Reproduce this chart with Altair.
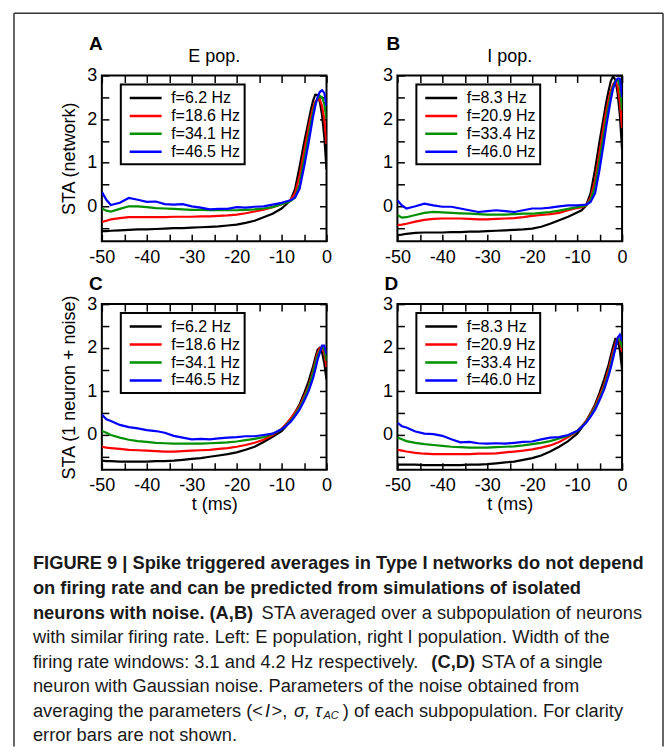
import altair as alt
import pandas as pd

# ---------------- data ----------------
T = [-50, -49, -48, -46, -44, -42, -40, -38, -36, -34, -32, -30, -28, -26, -24, -22, -20,
     -18, -16, -14, -12, -10, -9, -8, -7, -6, -5, -4, -3.5, -3, -2.5, -2, -1.5, -1, -0.5, 0]

E_LABELS = ["f=6.2 Hz", "f=18.6 Hz", "f=34.1 Hz", "f=46.5 Hz"]
I_LABELS = ["f=8.3 Hz", "f=20.9 Hz", "f=33.4 Hz", "f=46.0 Hz"]
COLORS = ["#000000", "#ff0000", "#009000", "#0000ff"]

# Panel A: E pop., network
A_BLACK = [-0.57, -0.57, -0.56, -0.55, -0.54, -0.53, -0.53, -0.52, -0.51, -0.50, -0.50, -0.49, -0.48, -0.47, -0.46, -0.44, -0.42,
           -0.38, -0.33, -0.25, -0.17, -0.05, 0.04, 0.14, 0.40, 0.90, 1.45, 1.95, 2.20, 2.42, 2.56, 2.55, 2.40, 2.10, 1.60, 0.85]
A_RED = [-0.36, -0.33, -0.30, -0.27, -0.25, -0.25, -0.25, -0.25, -0.25, -0.24, -0.24, -0.24, -0.23, -0.23, -0.22, -0.21, -0.19,
         -0.16, -0.12, -0.08, -0.02, 0.05, 0.09, 0.14, 0.30, 0.70, 1.25, 1.80, 2.05, 2.25, 2.40, 2.45, 2.45, 2.30, 2.00, 1.43]
A_GREEN = [-0.05, -0.10, -0.12, -0.06, 0.00, 0.00, -0.02, -0.04, -0.05, -0.06, -0.07, -0.08, -0.08, -0.09, -0.09, -0.09, -0.09,
           -0.08, -0.07, -0.05, -0.02, 0.05, 0.08, 0.12, 0.20, 0.50, 1.05, 1.60, 1.90, 2.15, 2.35, 2.47, 2.53, 2.50, 2.35, 2.00]
A_BLUE = [0.33, 0.15, 0.03, 0.08, 0.19, 0.15, 0.10, 0.11, 0.05, 0.04, 0.05, 0.00, -0.03, -0.07, -0.06, -0.06, -0.02,
          -0.03, -0.01, 0.00, 0.04, 0.08, 0.11, 0.14, 0.20, 0.40, 0.90, 1.45, 1.75, 2.05, 2.30, 2.50, 2.62, 2.66, 2.60, 2.30]

# Panel B: I pop., network
B_BLACK = [-0.66, -0.65, -0.63, -0.61, -0.60, -0.60, -0.60, -0.59, -0.59, -0.58, -0.58, -0.57, -0.56, -0.55, -0.54, -0.53, -0.51,
           -0.47, -0.40, -0.32, -0.24, -0.14, -0.09, 0.02, 0.30, 0.85, 1.50, 2.10, 2.40, 2.65, 2.87, 2.98, 2.90, 2.60, 2.10, 1.30]
B_RED = [-0.43, -0.42, -0.40, -0.35, -0.31, -0.29, -0.28, -0.28, -0.28, -0.29, -0.30, -0.30, -0.29, -0.28, -0.27, -0.25, -0.22,
         -0.20, -0.18, -0.15, -0.09, -0.04, -0.02, 0.02, 0.20, 0.60, 1.25, 1.90, 2.20, 2.45, 2.65, 2.80, 2.87, 2.75, 2.40, 1.80]
B_GREEN = [-0.20, -0.26, -0.25, -0.20, -0.15, -0.13, -0.14, -0.15, -0.16, -0.17, -0.18, -0.19, -0.19, -0.19, -0.18, -0.17, -0.17,
           -0.15, -0.13, -0.10, -0.06, -0.02, 0.00, 0.02, 0.15, 0.45, 1.05, 1.70, 2.00, 2.30, 2.55, 2.75, 2.87, 2.90, 2.75, 2.20]
B_BLUE = [0.14, 0.02, -0.05, 0.00, 0.06, 0.02, -0.01, -0.01, -0.05, -0.09, -0.13, -0.11, -0.09, -0.11, -0.13, -0.09, -0.05,
          -0.05, -0.03, 0.00, 0.02, 0.02, 0.03, 0.04, 0.10, 0.30, 0.85, 1.50, 1.85, 2.15, 2.45, 2.70, 2.85, 2.93, 2.93, 2.50]

# Panel C: E pop., 1 neuron + noise
C_BLACK = [-0.59, -0.60, -0.60, -0.61, -0.61, -0.61, -0.61, -0.60, -0.60, -0.59, -0.57, -0.55, -0.53, -0.50, -0.47, -0.44, -0.40,
           -0.34, -0.27, -0.16, -0.04, 0.09, 0.20, 0.36, 0.52, 0.70, 0.95, 1.23, 1.40, 1.57, 1.77, 1.95, 2.00, 1.90, 1.65, 1.27]
C_RED = [-0.27, -0.29, -0.30, -0.32, -0.34, -0.35, -0.36, -0.37, -0.38, -0.38, -0.37, -0.36, -0.35, -0.34, -0.32, -0.30, -0.27,
         -0.23, -0.18, -0.11, 0.00, 0.14, 0.25, 0.38, 0.51, 0.66, 0.88, 1.12, 1.28, 1.46, 1.67, 1.88, 1.99, 2.00, 1.88, 1.55]
C_GREEN = [0.09, 0.05, 0.00, -0.06, -0.11, -0.14, -0.16, -0.18, -0.19, -0.20, -0.20, -0.20, -0.20, -0.19, -0.18, -0.17, -0.15,
           -0.12, -0.09, -0.05, 0.02, 0.13, 0.22, 0.33, 0.46, 0.62, 0.83, 1.08, 1.24, 1.42, 1.62, 1.80, 1.93, 2.00, 1.97, 1.70]
C_BLUE = [0.47, 0.36, 0.32, 0.23, 0.18, 0.15, 0.11, 0.09, 0.05, -0.02, -0.06, -0.10, -0.09, -0.10, -0.08, -0.06, -0.05,
          -0.03, -0.03, 0.00, 0.03, 0.13, 0.21, 0.30, 0.43, 0.58, 0.78, 1.00, 1.15, 1.30, 1.50, 1.72, 1.88, 2.05, 2.05, 1.85]

# Panel D: I pop., 1 neuron + noise
D_BLACK = [-0.68, -0.68, -0.68, -0.68, -0.69, -0.69, -0.69, -0.69, -0.69, -0.68, -0.68, -0.67, -0.65, -0.63, -0.61, -0.57, -0.53,
           -0.47, -0.38, -0.27, -0.14, 0.03, 0.16, 0.32, 0.50, 0.70, 0.97, 1.27, 1.44, 1.61, 1.82, 2.03, 2.20, 2.18, 1.95, 1.50]
D_RED = [-0.34, -0.36, -0.38, -0.41, -0.43, -0.44, -0.44, -0.44, -0.44, -0.44, -0.43, -0.43, -0.42, -0.40, -0.38, -0.36, -0.33,
         -0.29, -0.24, -0.16, -0.05, 0.09, 0.20, 0.32, 0.48, 0.66, 0.90, 1.15, 1.32, 1.50, 1.70, 1.91, 2.08, 2.22, 2.15, 1.90]
D_GREEN = [-0.06, -0.10, -0.14, -0.18, -0.21, -0.23, -0.25, -0.27, -0.28, -0.29, -0.29, -0.29, -0.28, -0.27, -0.26, -0.24, -0.21,
           -0.18, -0.14, -0.08, -0.02, 0.09, 0.19, 0.30, 0.45, 0.62, 0.84, 1.09, 1.25, 1.42, 1.62, 1.82, 2.00, 2.20, 2.20, 2.00]
D_BLUE = [0.28, 0.20, 0.17, 0.08, 0.03, 0.02, -0.02, -0.10, -0.17, -0.16, -0.19, -0.20, -0.19, -0.20, -0.18, -0.16, -0.15,
          -0.10, -0.06, -0.05, 0.00, 0.09, 0.18, 0.28, 0.42, 0.58, 0.80, 1.04, 1.20, 1.36, 1.55, 1.76, 1.98, 2.22, 2.30, 2.15]

X_TICKS = [-50, -45, -40, -35, -30, -25, -20, -15, -10, -5, 0]
Y_TICKS = [-0.5, 0, 0.5, 1, 1.5, 2, 2.5, 3]

CAPTION = [
    "FIGURE 9 | Spike triggered averages in Type I networks do not depend",
    "on firing rate and can be predicted from simulations of isolated",
    "neurons with noise. (A,B)", "STA averaged over a subpopulation of neurons",
    "with similar firing rate. Left: E population, right I population. Width of the",
    "firing rate windows: 3.1 and 4.2 Hz respectively.", "(C,D)", "STA of a single",
    "neuron with Gaussian noise. Parameters of the noise obtained from",
    "averaging the parameters (<", "I", ">,", "σ,", "τ", "AC", ") of each subpopulation. For clarity",
    "error bars are not shown.",
]

# ---------------- layout constants ----------------
W, H = 225, 166
FONT = "Liberation Sans"
CAP_FONT = "Liberation Sans"
CAP_SIZE = 18.3


def long_df(labels, series):
    rows = []
    for lab, vals in zip(labels, series):
        for t, v in zip(T, vals):
            rows.append({"t": t, "v": v, "f": lab})
    return pd.DataFrame(rows)


def label_text(text, x, y, size, weight="normal"):
    return alt.Chart(pd.DataFrame({"s": [text]})).mark_text(
        font=FONT, fontSize=size, fontWeight=weight, align="center", baseline="alphabetic", color="black"
    ).encode(text="s:N", x=alt.value(x), y=alt.value(y))


def panel(labels, series, letter, letter_x, letter_y, title="", ytitle="", xtitle="", extra=()):
    df = long_df(labels, series)
    base = alt.Chart(df)
    xs = alt.Scale(domain=[-50, 0], nice=False, zero=False)
    ys = alt.Scale(domain=[-0.8, 3], nice=False, zero=False)

    xkw = dict(orient="bottom", values=X_TICKS, ticks=False, domain=False, grid=False,
               labelFlush=False, labelOverlap=False, labelPadding=7,
               labelExpr="datum.value % 10 === 0 ? '' + datum.value : ''",
               titlePadding=1, title=(xtitle if xtitle else None))
    ykw = dict(orient="left", values=Y_TICKS, ticks=False, domain=False, grid=False,
               labelFlush=False, labelOverlap=False, labelPadding=5,
               labelExpr="datum.value % 1 === 0 ? '' + datum.value : ''",
               titlePadding=8, title=(ytitle if ytitle else None))

    lines = base.mark_line(strokeWidth=2.2, clip=True).encode(
        x=alt.X("t:Q", scale=xs, axis=alt.Axis(**xkw)),
        y=alt.Y("v:Q", scale=ys, axis=alt.Axis(**ykw)),
        color=alt.Color("f:N", scale=alt.Scale(domain=labels, range=COLORS),
                        legend=alt.Legend(title=None, orient="none", legendX=19, legendY=9,
                                          direction="vertical", symbolType="M-2,0H2",
                                          symbolSize=256, symbolStrokeWidth=2.5,
                                          labelFont=FONT, labelFontSize=16, labelColor="black",
                                          padding=4, symbolOffset=11.4, labelOffset=16,
                                          rowPadding=-1, strokeColor="black", fillColor="white",
                                          labelLimit=300)),
    )
    tk = dict(labels=False, domain=False, grid=False, ticks=True, tickSize=7, tickWidth=1.5,
              tickColor="black", title=None)
    ticks_in1 = base.mark_line(opacity=0).encode(
        x=alt.X("t:Q", scale=xs, axis=alt.Axis(orient="top", offset=-H, values=X_TICKS, **tk)),
        y=alt.Y("v:Q", scale=ys, axis=alt.Axis(orient="right", offset=-W, values=Y_TICKS, **tk)),
    )
    ticks_in2 = base.mark_line(opacity=0).encode(
        x=alt.X("t:Q", scale=xs, axis=alt.Axis(orient="bottom", offset=-H, values=X_TICKS, **tk)),
        y=alt.Y("v:Q", scale=ys, axis=alt.Axis(orient="left", offset=-W, values=Y_TICKS, **tk)),
    )
    layers = [lines, ticks_in1, ticks_in2, label_text(letter, letter_x, letter_y, 19, "bold")]
    if title:
        layers.append(label_text(title, W / 2, -13.7, 18))
    layers += list(extra)
    return alt.layer(*layers).resolve_axis(x="independent", y="independent").properties(width=W, height=H)


# ---------------- caption + frame (drawn in panel C's coordinates) ----------------
one = alt.Chart(pd.DataFrame({"k": [0]}))


def cap(text, x, y, weight="normal", style="normal", size=CAP_SIZE, align="left"):
    return one.mark_text(text=text, font=CAP_FONT, fontSize=size, fontWeight=weight, fontStyle=style,
                         align=align, baseline="middle", color="#1a1a1a").encode(
        x=alt.value(x), y=alt.value(y))


LX = -69
RY0, DY = 260.7, 24.6
ly = [RY0 + DY * i for i in range(8)]
caption_layers = [
    cap(CAPTION[0], LX, ly[0], weight="bold"),
    cap(CAPTION[1], LX, ly[1], weight="bold"),
    cap(CAPTION[2], LX, ly[2], weight="bold"),
    cap(CAPTION[3], 541, ly[2], align="right"),
    cap(CAPTION[4], LX, ly[3]),
    cap(CAPTION[5], LX, ly[4]),
    cap(CAPTION[6], 330, ly[4], weight="bold"),
    cap(CAPTION[7], 380, ly[4]),
    cap(CAPTION[8], LX, ly[5]),
    cap(CAPTION[9], LX, ly[6]),
    cap(CAPTION[10], 163.5, ly[6], style="italic"),
    cap(CAPTION[11], 170, ly[6]),
    cap(CAPTION[12], 192.5, ly[6], style="italic"),
    cap(CAPTION[13], 213.5, ly[6], style="italic"),
    cap(CAPTION[14], 222, ly[6] + 4, style="italic", size=11),
    cap(CAPTION[15], 522, ly[6], align="right"),
    cap(CAPTION[16], LX, ly[7]),
]

FL, FR, FT, FB = -88, 562, -291.3, 443
frame_layers = [
    one.mark_rule(color="#333333", strokeWidth=1.5).encode(x=alt.value(FL), x2=alt.value(FR), y=alt.value(FT), y2=alt.value(FT)),
    one.mark_rule(color="#333333", strokeWidth=1.5).encode(x=alt.value(FL), x2=alt.value(FL), y=alt.value(FT), y2=alt.value(FB)),
    one.mark_rule(color="#333333", strokeWidth=1.5).encode(x=alt.value(FR), x2=alt.value(FR), y=alt.value(FT), y2=alt.value(FB)),
]

pA = panel(E_LABELS, [A_BLACK, A_RED, A_GREEN, A_BLUE], "A", -6, -25.7, title="E pop.", ytitle="STA (network)")
pB = panel(I_LABELS, [B_BLACK, B_RED, B_GREEN, B_BLUE], "B", -4, -25.7, title="I pop.")
pC = panel(E_LABELS, [C_BLACK, C_RED, C_GREEN, C_BLUE], "C", -6, -14.5, ytitle="STA (1 neuron + noise)",
           xtitle="t (ms)", extra=caption_layers + frame_layers)
pD = panel(I_LABELS, [D_BLACK, D_RED, D_GREEN, D_BLUE], "D", -6, -14.5, xtitle="t (ms)")

chart = alt.concat(pA, pB, pC, pD, columns=2, spacing={"row": 63, "column": 71}, bounds="flush").resolve_scale(
    color="independent"
).resolve_legend(
    color="independent"
).properties(
    padding={"left": 12, "top": 10, "right": 6, "bottom": 0}, background="white"
).configure_view(
    stroke="black", strokeWidth=2
).configure_axis(
    labelFont=FONT, labelFontSize=18, labelColor="black",
    titleFont=FONT, titleFontSize=18, titleFontWeight="normal", titleColor="black"
).configure_legend(
    strokeWidth=2
)

chart.save("out.html", embed_options={"renderer": "svg", "actions": False})
